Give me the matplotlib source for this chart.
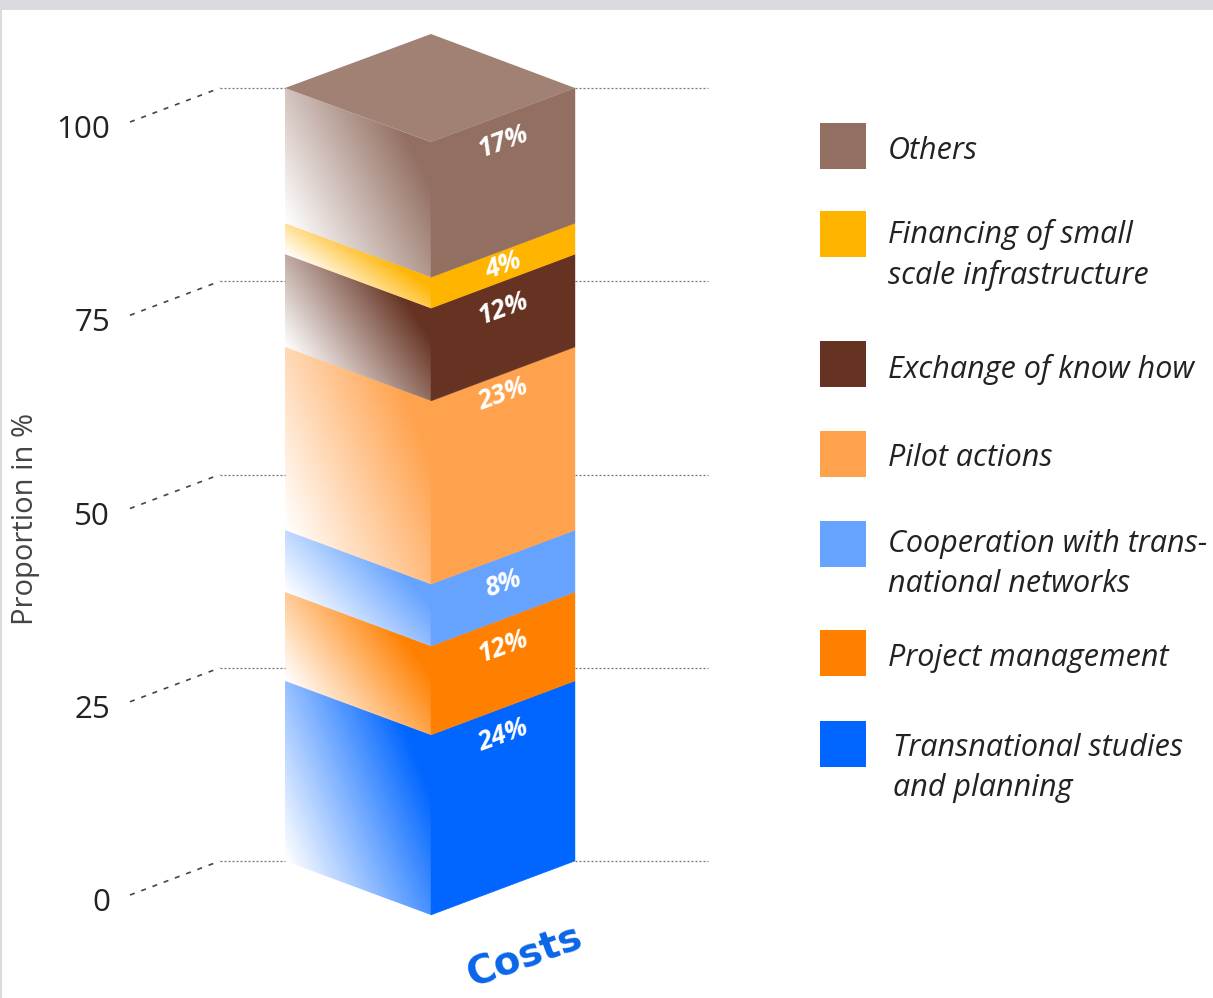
import matplotlib
matplotlib.use("Agg")
import matplotlib.pyplot as plt
import numpy as np
from matplotlib.patches import Polygon, Rectangle

# segments from bottom to top
categories = ["Transnational studies\nand planning", "Project management",
              "Cooperation with trans-\nnational networks", "Pilot actions",
              "Exchange of know how", "Financing of small\nscale infrastructure", "Others"]
# heights as drawn in the picture
heights = [23.3, 11.5, 8.0, 23.7, 12.0, 4.0, 17.5]
# numbers printed on the bar
shownValues = [24, 12, 8, 23, 12, 4, 17]
colors = ["#0066FF", "#FF8000", "#66A3FF", "#FFA24D", "#663322", "#FFB400", "#936F62"]
yTicks = [0, 25, 50, 75, 100]

W, H = 1213, 998
Y0 = 861      # pixel row of 0 %
PX = 7.73     # pixels per percent
DEPTH = 54 / PX
xLeft, xMid, xRight = 285, 431, 575

# pixel row -> percent, the y axis runs in percent
def py(y):
    return (Y0 - y) / PX

def drawLeftFace(ax, low, high, color):
    us = np.linspace(0, 1, 150)
    ys = np.linspace(low - DEPTH, high, 400)
    u, yy = np.meshgrid(us, ys)
    v = np.clip((yy - (low - DEPTH * u)) / (high - low), 0, 1)
    alpha = np.clip(0.72 * u + 0.42 * v, 0, 1)
    img = np.zeros(u.shape + (4,))
    img[..., :3] = matplotlib.colors.to_rgb(color)
    img[..., 3] = alpha
    im = ax.imshow(img, origin="lower", aspect="auto", interpolation="bilinear",
                   extent=[xLeft, xMid, low - DEPTH, high], zorder=3)
    clip = Polygon([(xLeft, low), (xMid, low - DEPTH), (xMid, high - DEPTH), (xLeft, high)],
                   transform=ax.transData, fc="none", ec="none")
    ax.add_patch(clip)
    im.set_clip_path(clip)

def drawBar(ax):
    bottoms = np.concatenate([[0], np.cumsum(heights)])
    labelRows = [735, 646, 584, 394, 308, 266, 141]
    for i, color in enumerate(colors):
        low, high = bottoms[i], bottoms[i + 1]
        drawLeftFace(ax, low, high, color)
        ax.add_patch(Polygon([(xMid, low - DEPTH), (xRight, low), (xRight, high), (xMid, high - DEPTH)],
                             fc=color, ec=color, lw=0.3, zorder=4))
        ax.text(503, py(labelRows[i]), "%d%%" % shownValues[i], color="white", fontsize=19,
                fontweight="bold", style="italic", rotation=20, ha="center", va="center",
                family="Open Sans", zorder=6)
    top = bottoms[-1]
    ax.add_patch(Polygon([(xLeft, top), (xMid, top + DEPTH), (xRight, top), (xMid, top - DEPTH)],
                         fc="#A08174", ec="none", zorder=5))

def drawTicks(ax):
    for t in yTicks:
        ax.plot([xRight, 708], [t, t], color="#777777", lw=0.9, dashes=(1.6, 1.6), zorder=2)
        ax.plot([220, xLeft], [t, t], color="#777777", lw=0.9, dashes=(1.6, 1.6), zorder=2)
        ax.plot([130, 220], [t - 34 / PX, t], color="#444444", lw=1.2, dashes=(3, 4.2), zorder=2)
        ax.text(110, t - 42 / PX, str(t), ha="right", va="center", fontsize=22.5,
                color="#222222", family="Open Sans")

def drawLegend(ax):
    swatchTops = [721, 630, 521, 431, 341, 211, 123]
    textX = [893, 888, 888, 888, 888, 888, 888]
    textY = [768, 658, 564, 458, 369, 255, 151]
    for i, name in enumerate(categories):
        ax.add_patch(Rectangle((820, py(swatchTops[i] + 46)), 46, 46 / PX, fc=colors[i], ec="none"))
        ax.text(textX[i], py(textY[i]), name, ha="left", va="center", fontsize=22, style="italic",
                color="#222222", family="Open Sans", linespacing=1.42)

def main():
    fig = plt.figure(figsize=(W / 100, H / 100), dpi=100, facecolor="white")
    ax = fig.add_axes([0, 0, 1, 1])
    ax.axis("off")
    ax.add_patch(Rectangle((0, py(10)), W, py(0) - py(10), fc="#DADAE0", ec="none"))
    ax.add_patch(Rectangle((0, py(H)), 2, py(10) - py(H), fc="#DADAE0", ec="none"))
    drawTicks(ax)
    drawBar(ax)
    drawLegend(ax)
    ax.text(26, py(519), "Proportion in %", rotation=90, ha="center", va="center", fontsize=21,
            color="#444444", family="Open Sans")
    ax.text(525, py(957), "Costs", rotation=20, ha="center", va="center", fontsize=28,
            fontweight="bold", color="#0A66E8", family="DejaVu Sans", rotation_mode="anchor")
    ax.set_xlim(0, W)
    ax.set_ylim(py(H), py(0))
    fig.savefig("out.png", dpi=100)
    plt.close(fig)

main()
